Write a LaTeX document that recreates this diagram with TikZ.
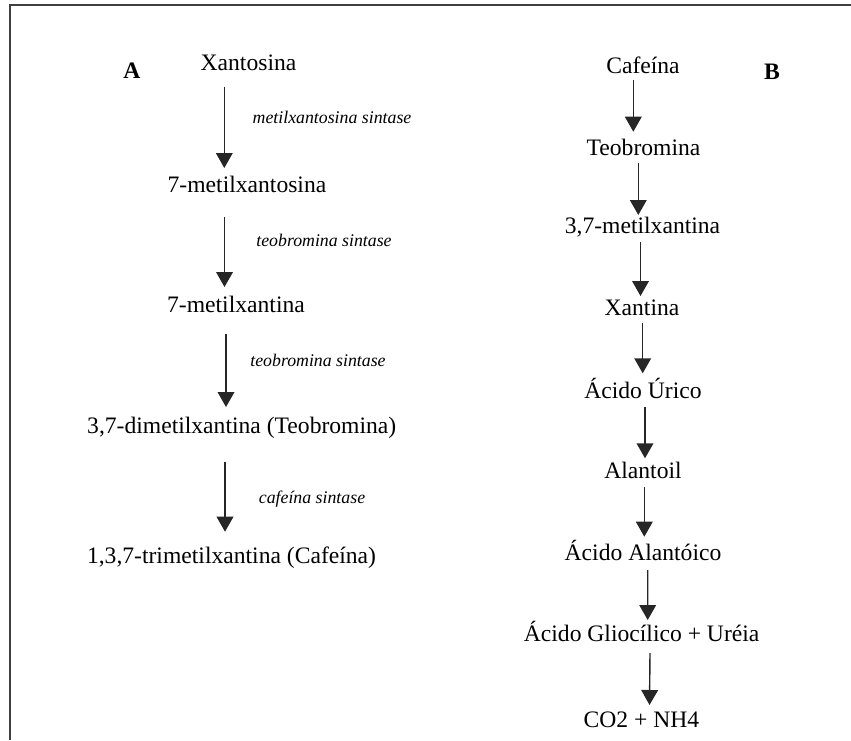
\documentclass[tikz,border=0pt]{standalone}
\usepackage{fontspec}
\setmainfont{Liberation Serif}
\usetikzlibrary{arrows.meta}
\begin{document}
\begin{tikzpicture}[x=1pt,y=-1pt,
  chem/.style={anchor=base,inner sep=0pt,font=\fontsize{23.6}{28}\selectfont},
  enz/.style={anchor=base,inner sep=0pt,font=\fontsize{17.8}{21}\selectfont\itshape},
  panel/.style={anchor=base,inner sep=0pt,font=\fontsize{23.6}{28}\selectfont\bfseries},
  arr/.style={draw=black!85,line width=1.4pt,-{Triangle[width=16.7pt,length=15pt]}},
  frameline/.style={draw=black!75,line width=1.8pt}]
\useasboundingbox (0,0) rectangle (851,740);
% frame
\coordinate (fb) at (10,740);
\coordinate (ftl) at (10,5);
\coordinate (ftr) at (851,5);
\draw[frameline] (fb) -- (ftl) -- (ftr);

% Panel A
\node[panel] (lA) at (132,78) {A};
\node[chem] (xant) at (248.5,70) {Xantosina};
\node[chem] (mxs) at (247,192) {7-metilxantosina};
\node[chem] (mxt) at (236,312) {7-metilxantina};
\node[chem] (teob) at (241.7,433) {3,7-dimetilxantina (Teobromina)};
\node[chem] (cafA) at (231.5,563) {1,3,7-trimetilxantina (Cafeína)};
\node[enz] (e1) at (332,123) {metilxantosina sintase};
\node[enz] (e2) at (324,246) {teobromina sintase};
\node[enz] (e3) at (318,366) {teobromina sintase};
\node[enz] (e4) at (312,503) {cafeína sintase};

\draw[arr] ([xshift=-24.2pt,yshift=-16.7pt]xant.base) -- ([xshift=-22.7pt,yshift=24pt]mxs.base);
\draw[arr] ([xshift=-22.5pt,yshift=-25pt]mxs.base) -- ([xshift=-11.5pt,yshift=25pt]mxt.base);
\draw[arr] ([xshift=-10pt,yshift=-22pt]mxt.base) -- ([xshift=-15.7pt,yshift=26pt]teob.base);
\draw[arr] ([xshift=-16.7pt,yshift=-28.7pt]teob.base) -- ([xshift=-6.5pt,yshift=31.3pt]cafA.base);

% Panel B
\node[panel] (lB) at (772,79.3) {B};
\node[chem] (cafB) at (643,73.3) {Cafeína};
\node[chem] (teoB) at (643.5,155) {Teobromina};
\node[chem] (m37) at (642.5,233.3) {3,7-metilxantina};
\node[chem] (xan) at (642,315) {Xantina};
\node[chem] (uric) at (643,398.3) {Ácido Úrico};
\node[chem] (alt) at (643,478.3) {Alantoil};
\node[chem] (alto) at (643,560) {Ácido Alantóico};
\node[chem] (glio) at (641.6,641) {Ácido Gliocílico + Uréia};
\node[chem] (co2) at (641.5,727) {CO2 + NH4};

\draw[arr] ([xshift=-9.7pt,yshift=-6.7pt]cafB.base) -- ([xshift=-10.2pt,yshift=23.3pt]teoB.base);
\draw[arr] ([xshift=-5.2pt,yshift=-8.3pt]teoB.base) -- ([xshift=-4.2pt,yshift=18.3pt]m37.base);
\draw[arr] ([xshift=-2pt,yshift=-8.7pt]m37.base) -- ([xshift=-1.5pt,yshift=19pt]xan.base);
\draw[arr] ([xshift=0.7pt,yshift=-8pt]xan.base) -- ([xshift=-0.3pt,yshift=25pt]uric.base);
\draw[arr] ([xshift=2pt,yshift=-8.4pt]uric.base) -- ([xshift=2pt,yshift=20pt]alt.base);
\draw[arr] ([xshift=1.3pt,yshift=-8.4pt]alt.base) -- ([xshift=1.3pt,yshift=23.3pt]alto.base);
\draw[arr] ([xshift=4.7pt,yshift=-10pt]alto.base) -- ([xshift=6.1pt,yshift=21pt]glio.base);
\draw[arr] ([xshift=8.4pt,yshift=-12pt]glio.base) -- ([xshift=8pt,yshift=22pt]co2.base);
\end{tikzpicture}
\end{document}
